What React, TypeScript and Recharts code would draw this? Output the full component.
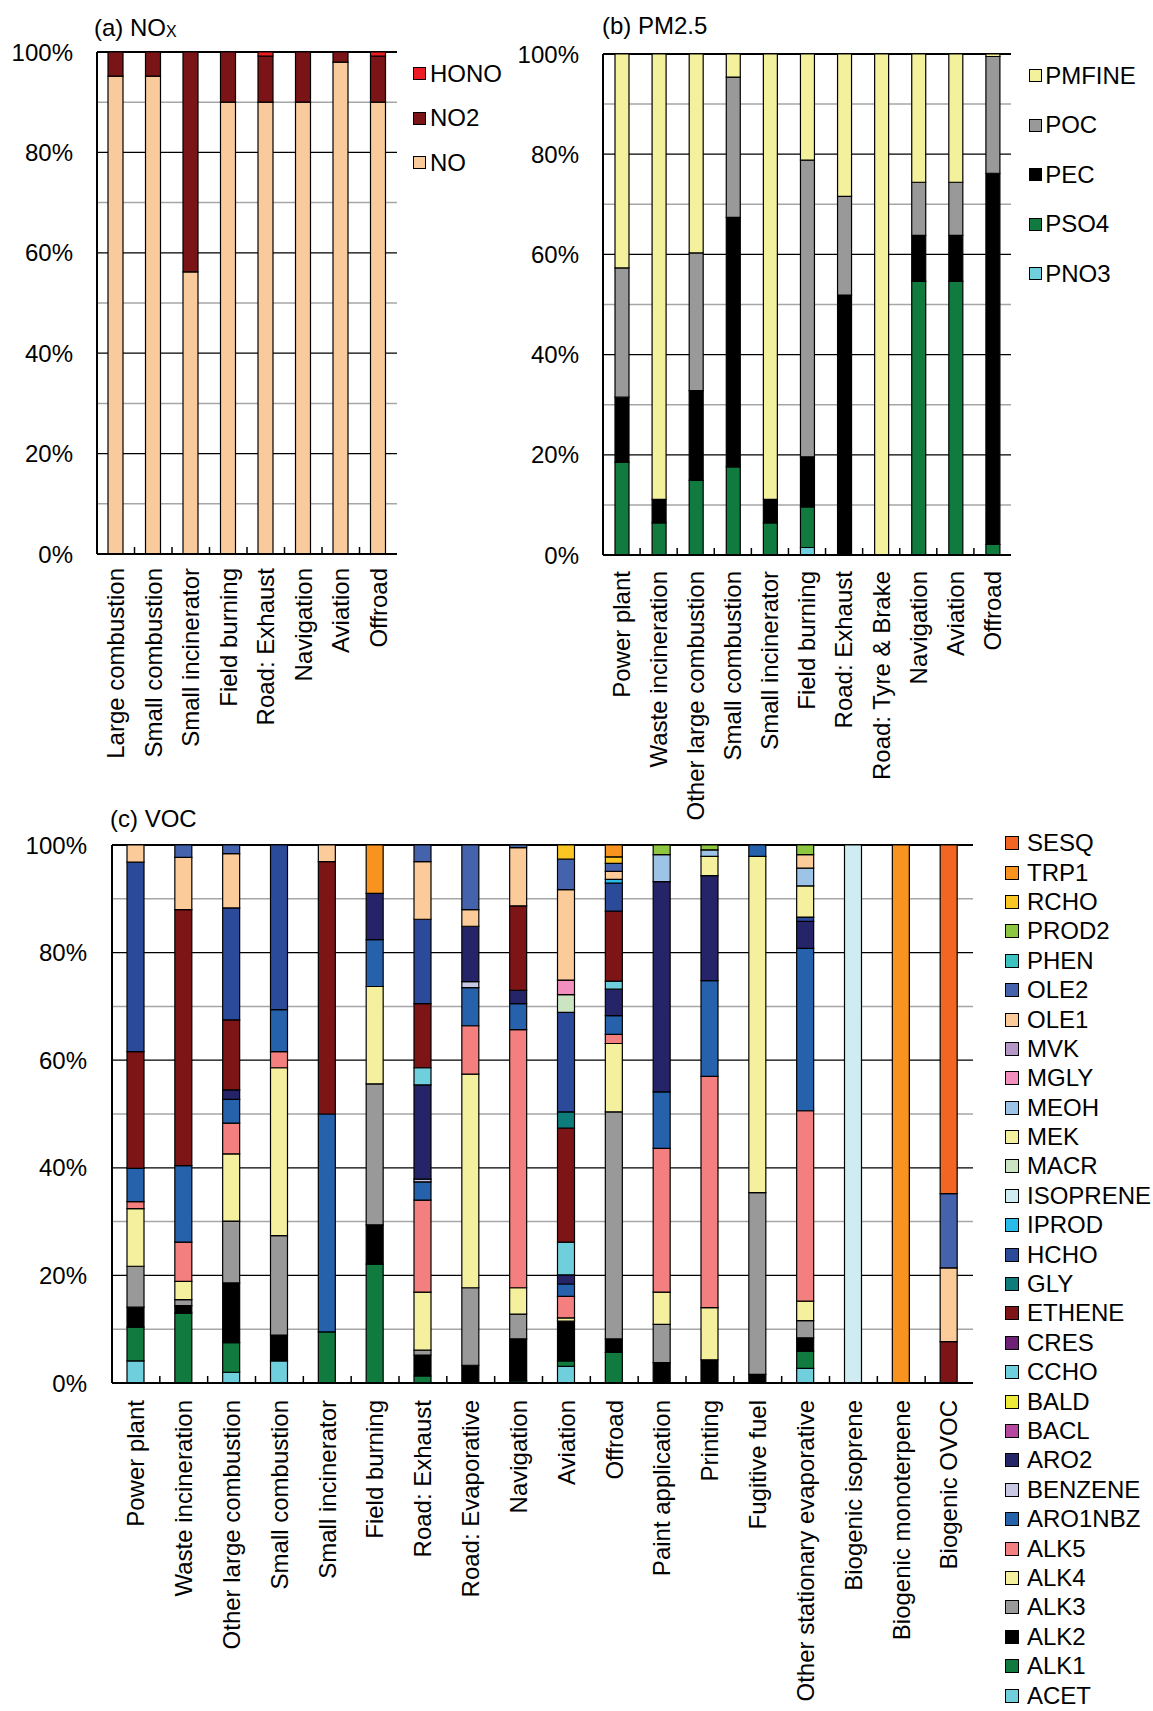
import React from 'react';
import { BarChart, Bar, XAxis, YAxis, CartesianGrid, Legend } from 'recharts';

const FONT = "'Liberation Sans', Arial, Helvetica, sans-serif";

// ---------- shared axis values ----------
const percentTicks = [0, 20, 40, 60, 80, 100];
const majorGridValues = [20, 40, 60, 80];
const minorGridValues = [10, 30, 50, 70, 90];
const topBorderValue = [100];

// ---------- (a) NOx ----------
const noxCategories = ['Large combustion', 'Small combustion', 'Small incinerator', 'Field burning', 'Road: Exhaust', 'Navigation', 'Aviation', 'Offroad'];
const noxNO = [95.2, 95.2, 56.2, 90.0, 90.0, 90.0, 98.0, 90.0];
const noxNO2 = [4.8, 4.8, 43.8, 10.0, 9.2, 10.0, 2.0, 9.2];
const noxHONO = [0, 0, 0, 0, 0.8, 0, 0, 0.8];
const noxKeys = ['NO', 'NO2', 'HONO']; // bottom -> top

// ---------- (b) PM2.5 ----------
const pmCategories = ['Power plant', 'Waste incineration', 'Other large combustion', 'Small combustion', 'Small incinerator', 'Field burning', 'Road: Exhaust', 'Road: Tyre & Brake', 'Navigation', 'Aviation', 'Offroad'];
const pmPNO3 = [0, 0, 0, 0, 0, 1.5, 0, 0, 0, 0, 0];
const pmPSO4 = [18.5, 6.4, 14.9, 17.6, 6.4, 8.1, 0, 0, 54.6, 54.6, 2.1];
const pmPEC = [13.0, 4.7, 17.9, 49.8, 4.7, 10.0, 51.9, 0, 9.2, 9.2, 74.1];
const pmPOC = [25.8, 0, 27.5, 28.0, 0, 59.2, 19.7, 0, 10.6, 10.6, 23.3];
const pmPMFINE = [42.7, 88.9, 39.7, 4.6, 88.9, 21.2, 28.4, 100, 25.6, 25.6, 0.5];
const pmKeys = ['PNO3', 'PSO4', 'PEC', 'POC', 'PMFINE'];

// ---------- (c) VOC ----------
const vocCategories = ['Power plant', 'Waste incineration', 'Other large combustion', 'Small combustion', 'Small incinerator', 'Field burning', 'Road: Exhaust', 'Road: Evaporative', 'Navigation', 'Aviation', 'Offroad', 'Paint application', 'Printing', 'Fugitive fuel', 'Other stationary evaporative', 'Biogenic isoprene', 'Biogenic monoterpene', 'Biogenic OVOC'];
const vocACET = [4.1, 0, 2.0, 4.1, 0, 0, 0, 0, 0, 3.1, 0, 0, 0, 0, 2.7, 0, 0, 0];
const vocALK1 = [6.3, 13.0, 5.5, 0, 9.5, 22.1, 1.3, 0, 0.4, 1.0, 5.7, 0, 0, 0, 3.2, 0, 0, 0];
const vocALK2 = [3.7, 1.4, 11.1, 4.8, 0, 7.3, 3.9, 3.3, 7.8, 7.4, 2.5, 3.8, 4.3, 1.6, 2.5, 0, 0, 0];
const vocALK3 = [7.6, 1.1, 11.5, 18.5, 0, 26.2, 0.9, 14.4, 4.6, 0, 42.2, 7.1, 0, 33.8, 3.2, 0, 0, 0];
const vocALK4 = [10.7, 3.4, 12.5, 31.2, 0, 18.1, 10.8, 39.7, 4.9, 0.6, 12.7, 6.0, 9.7, 62.5, 3.6, 0, 0, 0];
const vocALK5 = [1.3, 7.3, 5.7, 3.0, 0, 0, 17.1, 9.0, 48.0, 4.0, 1.7, 26.7, 43.0, 0, 35.4, 0, 0, 0];
const vocARO1NBZ = [6.2, 14.2, 4.4, 7.8, 40.5, 8.7, 3.4, 7.1, 4.8, 2.3, 3.5, 10.5, 17.8, 2.1, 30.2, 0, 0, 0];
const vocBENZENE = [0, 0, 0, 0, 0, 0, 0.5, 1.1, 0, 0, 0, 0, 0, 0, 0, 0, 0, 0];
const vocARO2 = [0, 0, 1.8, 0, 0, 8.6, 17.5, 10.3, 2.5, 1.7, 4.9, 39.1, 19.5, 0, 5.0, 0, 0, 0];
const vocBACL = [0, 0, 0, 0, 0, 0, 0, 0, 0, 0, 0, 0, 0, 0, 0, 0, 0, 0];
const vocBALD = [0, 0, 0, 0, 0, 0, 0, 0, 0, 0, 0, 0, 0, 0, 0, 0, 0, 0];
const vocCCHO = [0, 0, 0, 0, 0, 0, 3.2, 0, 0, 6.1, 1.5, 0, 0, 0, 0, 0, 0, 0];
const vocCRES = [0, 0, 0, 0, 0, 0, 0, 0, 0, 0, 0, 0, 0, 0, 0, 0, 0, 0];
const vocETHENE = [21.7, 47.6, 13.0, 0, 46.9, 0, 11.9, 0, 15.7, 21.2, 13.0, 0, 0, 0, 0, 0, 0, 7.7];
const vocGLY = [0, 0, 0, 0, 0, 0, 0, 0, 0, 3.0, 0, 0, 0, 0, 0, 0, 0, 0];
const vocHCHO = [35.2, 0, 20.8, 30.6, 0, 0, 15.7, 0, 0, 18.5, 5.2, 0, 0, 0, 0.8, 0, 0, 0];
const vocIPROD = [0, 0, 0, 0, 0, 0, 0, 0, 0, 0, 0.7, 0, 0, 0, 0, 0, 0, 0];
const vocISOPRENE = [0, 0, 0, 0, 0, 0, 0, 0, 0, 0, 0, 0, 0, 0, 0, 100, 0, 0];
const vocMACR = [0, 0, 0, 0, 0, 0, 0, 0, 0, 3.3, 0, 0, 0, 0, 0, 0, 0, 0];
const vocMEK = [0, 0, 0, 0, 0, 0, 0, 0, 0, 0, 0, 0, 3.6, 0, 5.8, 0, 0, 0];
const vocMEOH = [0, 0, 0, 0, 0, 0, 0, 0, 0, 0, 0, 5.0, 1.2, 0, 3.3, 0, 0, 0];
const vocMGLY = [0, 0, 0, 0, 0, 0, 0, 0, 0, 2.7, 0, 0, 0, 0, 0, 0, 0, 0];
const vocMVK = [0, 0, 0, 0, 0, 0, 0, 0, 0, 0, 0, 0, 0, 0, 0, 0, 0, 0];
const vocOLE1 = [3.2, 9.7, 10.1, 0, 3.1, 0, 10.7, 3.1, 10.8, 16.8, 1.5, 0, 0, 0, 2.5, 0, 0, 13.7];
const vocOLE2 = [0, 2.3, 1.6, 0, 0, 0, 3.1, 12.0, 0.5, 5.7, 1.5, 0, 0, 0, 0, 0, 0, 13.8];
const vocPHEN = [0, 0, 0, 0, 0, 0, 0, 0, 0, 0, 0, 0, 0, 0, 0, 0, 0, 0];
const vocPROD2 = [0, 0, 0, 0, 0, 0, 0, 0, 0, 0, 0, 1.8, 0.9, 0, 1.8, 0, 0, 0];
const vocRCHO = [0, 0, 0, 0, 0, 0, 0, 0, 0, 2.6, 1.2, 0, 0, 0, 0, 0, 0, 0];
const vocTRP1 = [0, 0, 0, 0, 0, 9.0, 0, 0, 0, 0, 2.2, 0, 0, 0, 0, 0, 100, 0];
const vocSESQ = [0, 0, 0, 0, 0, 0, 0, 0, 0, 0, 0, 0, 0, 0, 0, 0, 0, 64.8];
const vocKeys = ['ACET', 'ALK1', 'ALK2', 'ALK3', 'ALK4', 'ALK5', 'ARO1NBZ', 'BENZENE', 'ARO2', 'BACL', 'BALD', 'CCHO', 'CRES', 'ETHENE', 'GLY', 'HCHO', 'IPROD', 'ISOPRENE', 'MACR', 'MEK', 'MEOH', 'MGLY', 'MVK', 'OLE1', 'OLE2', 'PHEN', 'PROD2', 'RCHO', 'TRP1', 'SESQ'];

// value tables built from the arrays above
const noxValues: Record<string, number[]> = { NO: noxNO, NO2: noxNO2, HONO: noxHONO };
const pmValues: Record<string, number[]> = { PNO3: pmPNO3, PSO4: pmPSO4, PEC: pmPEC, POC: pmPOC, PMFINE: pmPMFINE };
const vocValues: Record<string, number[]> = {
  ACET: vocACET, ALK1: vocALK1, ALK2: vocALK2, ALK3: vocALK3, ALK4: vocALK4, ALK5: vocALK5,
  ARO1NBZ: vocARO1NBZ, BENZENE: vocBENZENE, ARO2: vocARO2, BACL: vocBACL, BALD: vocBALD,
  CCHO: vocCCHO, CRES: vocCRES, ETHENE: vocETHENE, GLY: vocGLY, HCHO: vocHCHO, IPROD: vocIPROD,
  ISOPRENE: vocISOPRENE, MACR: vocMACR, MEK: vocMEK, MEOH: vocMEOH, MGLY: vocMGLY, MVK: vocMVK,
  OLE1: vocOLE1, OLE2: vocOLE2, PHEN: vocPHEN, PROD2: vocPROD2, RCHO: vocRCHO, TRP1: vocTRP1, SESQ: vocSESQ,
};

// ---------- colours ----------
const COLORS: Record<string, string> = {
  NO: '#F9CB9C', NO2: '#7B1416', HONO: '#ED1C24',
  PNO3: '#70CFDC', PSO4: '#117A3E', PEC: '#000000', POC: '#999999', PMFINE: '#F4F19C',
  SESQ: '#F26522', TRP1: '#F7931E', RCHO: '#F9C623', PROD2: '#8DC63F', PHEN: '#3CC2C0',
  OLE2: '#4563AD', OLE1: '#FBCB9A', MVK: '#B497C7', MGLY: '#F28FBF', MEOH: '#9DC3E6',
  MEK: '#F5F09E', MACR: '#CBE5C3', ISOPRENE: '#CFECF2', IPROD: '#29BCEB', HCHO: '#2C4A9A',
  GLY: '#0E7C7B', ETHENE: '#7D1416', CRES: '#6E2076', CCHO: '#70CFDC', BALD: '#EEEA3A',
  BACL: '#B5489E', ARO2: '#262469', BENZENE: '#C9C8E4', ARO1NBZ: '#2661AC', ALK5: '#F47F7F',
  ALK4: '#F5F09E', ALK3: '#999999', ALK2: '#000000', ALK1: '#117A3E', ACET: '#70CFDC',
};

type LegendOpts = { left: number; top: number; row: number; square: number; gap: number; font: number };

type PanelProps = {
  left: number;
  top: number;
  width: number;
  height: number;
  margin: { top: number; right: number; left: number; bottom: number };
  yAxisWidth: number;
  xAxisHeight: number;
  yTickGap: number;
  categories: string[];
  keys: string[];
  values: Record<string, number[]>;
  barSize: number;
  labelOffset: number;
  legend: LegendOpts;
};

function Panel(p: PanelProps) {
  const data = p.categories.map((name, i) => {
    const row: Record<string, string | number> = { name };
    p.keys.forEach((k) => {
      row[k] = p.values[k][i];
    });
    return row;
  });
  const plotWidth = p.width - p.margin.left - p.margin.right - p.yAxisWidth;
  const halfBand = plotWidth / p.categories.length / 2;
  const count = p.categories.length;

  const renderXTick = (props: any) => {
    const { x, y, payload, index } = props;
    const ty = y + p.labelOffset;
    return (
      <g>
        <text
          x={x}
          y={ty}
          transform={`rotate(-90 ${x} ${ty})`}
          textAnchor="end"
          dy="0.35em"
          fontSize={24}
          fill="#000"
          fontFamily={FONT}
        >
          {payload.value}
        </text>
        {index < count - 1 && (
          <line x1={x + halfBand} x2={x + halfBand} y1={y} y2={y - 7} stroke="#000" strokeWidth={1.5} />
        )}
      </g>
    );
  };

  const legendKeys = [...p.keys].reverse();
  const lg = p.legend;
  const renderLegend = () => (
    <div style={{ fontFamily: FONT }}>
      {legendKeys.map((k) => (
        <div key={k} style={{ display: 'flex', alignItems: 'center', height: lg.row }}>
          <span
            style={{
              width: lg.square,
              height: lg.square,
              background: COLORS[k],
              border: '1.5px solid #000',
              boxSizing: 'border-box',
              flex: 'none',
            }}
          />
          <span style={{ marginLeft: lg.gap, fontSize: lg.font, lineHeight: 1, color: '#000', whiteSpace: 'nowrap' }}>{k}</span>
        </div>
      ))}
    </div>
  );

  return (
    <div style={{ position: 'absolute', left: p.left, top: p.top }}>
      <BarChart width={p.width} height={p.height} data={data} margin={p.margin}>
        <CartesianGrid vertical={false} horizontalValues={minorGridValues} stroke="#A6A6A6" strokeWidth={1.5} />
        <CartesianGrid vertical={false} horizontalValues={majorGridValues} stroke="#000" strokeWidth={1.3} />
        <CartesianGrid vertical={false} horizontalValues={topBorderValue} stroke="#000" strokeWidth={2} />
        <XAxis
          dataKey="name"
          type="category"
          height={p.xAxisHeight}
          interval={0}
          tickLine={false}
          tickSize={0}
          tickMargin={0}
          axisLine={{ stroke: '#000', strokeWidth: 2 }}
          tick={renderXTick}
        />
        <YAxis
          type="number"
          domain={[0, 100]}
          allowDataOverflow
          ticks={percentTicks}
          interval={0}
          tickFormatter={(v: number) => `${v}%`}
          width={p.yAxisWidth}
          tickLine={false}
          tickSize={0}
          tickMargin={p.yTickGap}
          axisLine={{ stroke: '#000', strokeWidth: 2 }}
          tick={{ fill: '#000', fontSize: 24, fontFamily: FONT }}
        />
        <YAxis
          yAxisId="border"
          orientation="right"
          type="number"
          domain={[0, 100]}
          width={0}
          tick={false}
          tickLine={false}
          axisLine={{ stroke: '#000', strokeWidth: 2 }}
        />
        {p.keys.map((k) => (
          <Bar
            key={k}
            dataKey={k}
            stackId="s"
            fill={COLORS[k]}
            stroke="#000"
            strokeWidth={1.2}
            barSize={p.barSize}
            isAnimationActive={false}
          />
        ))}
        <Legend
          layout="vertical"
          align="center"
          verticalAlign="middle"
          wrapperStyle={{ left: lg.left, top: lg.top }}
          content={renderLegend}
        />
      </BarChart>
    </div>
  );
}

export default function App() {
  return (
    <div
      style={{
        position: 'absolute',
        left: 0,
        top: 0,
        width: 1153,
        height: 1711,
        background: '#fff',
        fontFamily: FONT,
        overflow: 'hidden',
      }}
    >
      <Panel
        left={0}
        top={0}
        width={520}
        height={790}
        margin={{ top: 52, right: 123, left: 0, bottom: 0 }}
        yAxisWidth={97}
        xAxisHeight={236}
        yTickGap={24}
        categories={noxCategories}
        keys={noxKeys}
        values={noxValues}
        barSize={15}
        labelOffset={14}
        legend={{ left: 413, top: 51.8, row: 44.4, square: 13, gap: 4, font: 24 }}
      />
      <Panel
        left={470}
        top={0}
        width={683}
        height={830}
        margin={{ top: 54, right: 142, left: 0, bottom: 0 }}
        yAxisWidth={133}
        xAxisHeight={275}
        yTickGap={24}
        categories={pmCategories}
        keys={pmKeys}
        values={pmValues}
        barSize={14}
        labelOffset={16}
        legend={{ left: 558.7, top: 51, row: 49.5, square: 13, gap: 3.5, font: 24 }}
      />
      <Panel
        left={0}
        top={790}
        width={1153}
        height={921}
        margin={{ top: 55, right: 180, left: 0, bottom: 0 }}
        yAxisWidth={112}
        xAxisHeight={328}
        yTickGap={25}
        categories={vocCategories}
        keys={vocKeys}
        values={vocValues}
        barSize={17}
        labelOffset={17}
        legend={{ left: 1005, top: 38.5, row: 29.4, square: 14, gap: 8, font: 24 }}
      />
      <svg
        width={1153}
        height={1711}
        style={{ position: 'absolute', left: 0, top: 0, pointerEvents: 'none' }}
        fontFamily={FONT}
      >
        <text x={94} y={36} fontSize={24} fill="#000">
          (a) NO<tspan fontSize={16} dy={1}>X</tspan>
        </text>
        <text x={602} y={34} fontSize={24} fill="#000">
          (b) PM2.5
        </text>
        <text x={110} y={827} fontSize={24} fill="#000">
          (c) VOC
        </text>
      </svg>
    </div>
  );
}
